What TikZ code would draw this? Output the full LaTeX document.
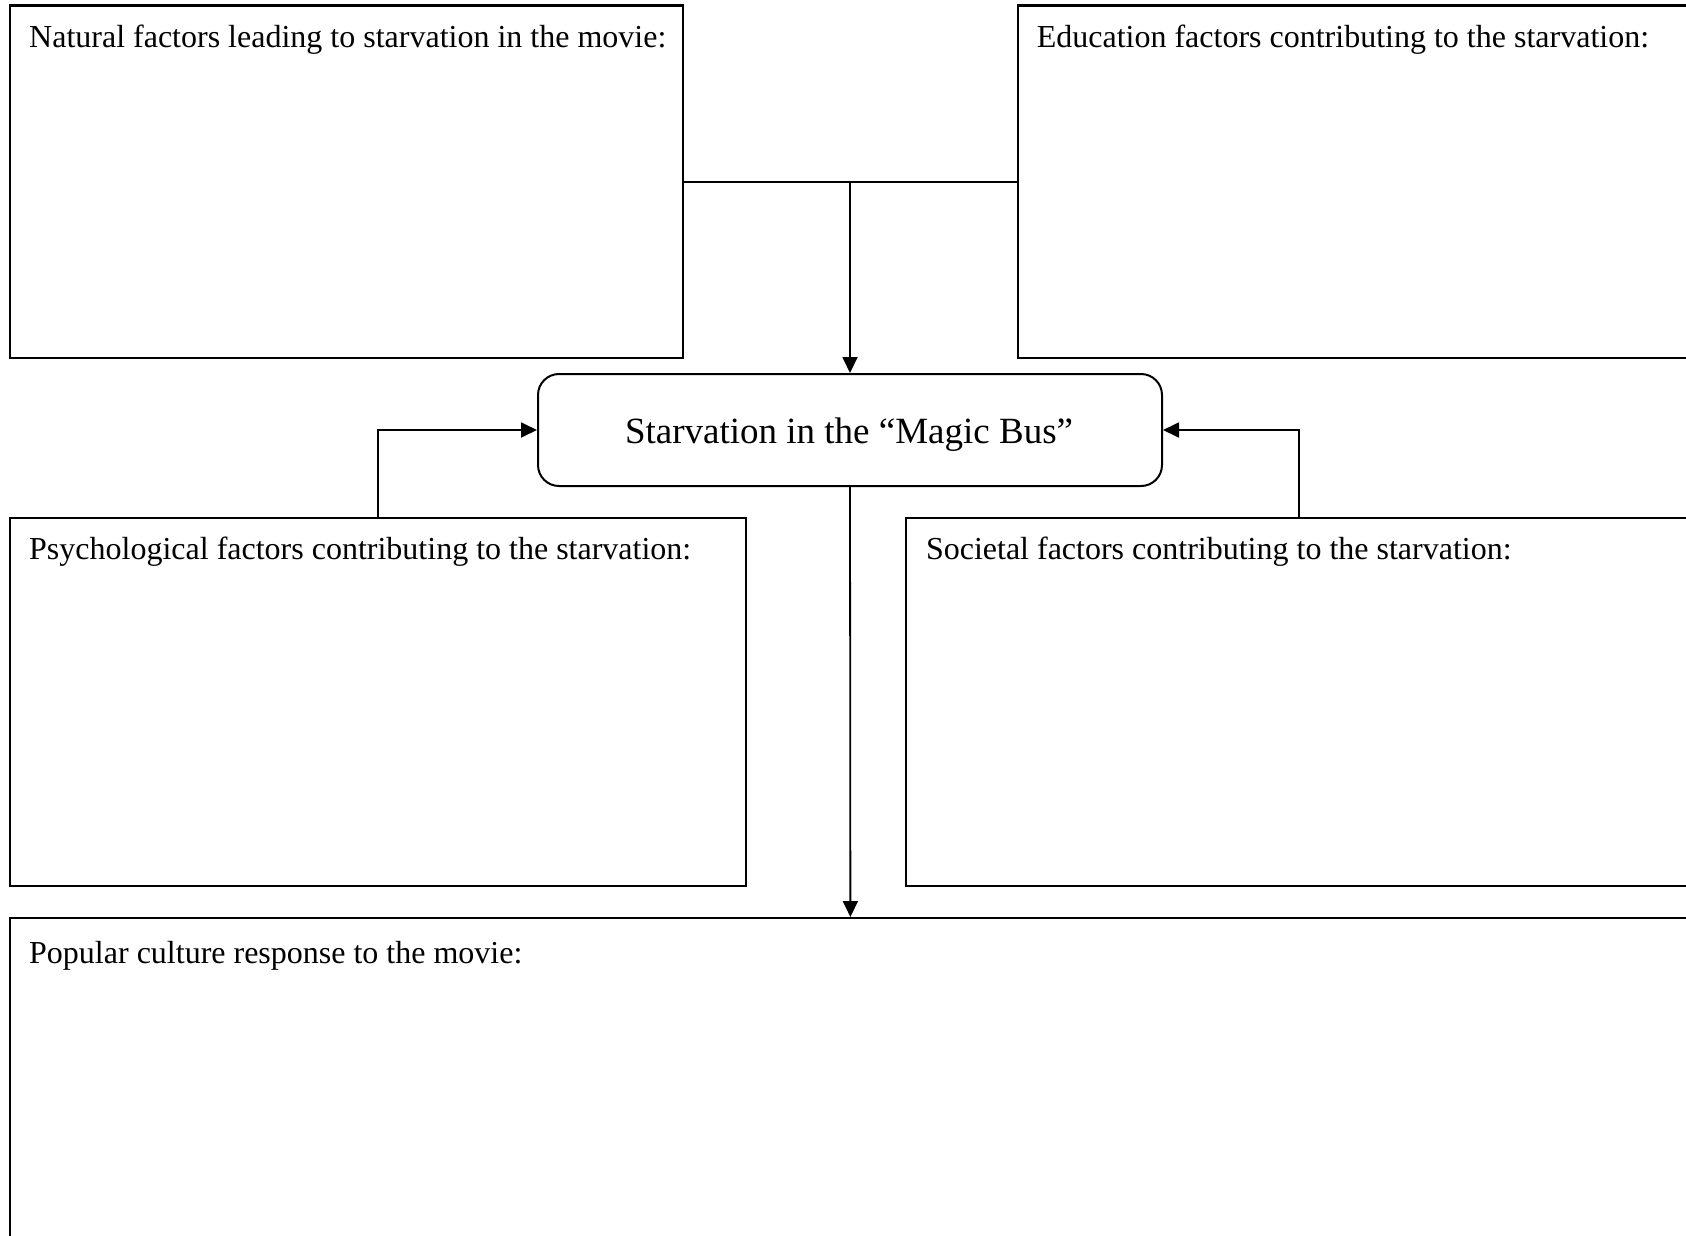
\documentclass[tikz,border=0pt]{standalone}
\usepackage{fontspec}
\setmainfont{Liberation Serif}
\usetikzlibrary{arrows.meta,calc}
\begin{document}
\begin{tikzpicture}[x=1pt,y=-1pt,
  box/.style={draw=black,line width=2.2pt,rectangle,inner sep=0pt,anchor=north west},
  centerbox/.style={draw=black,line width=2pt,rectangle,rounded corners=21pt,inner sep=0pt,anchor=north west},
  lbl/.style={inner sep=0pt,anchor=base west,font=\fontsize{32}{38}\selectfont},
  conn/.style={draw=black,line width=1.8pt},
  arr/.style={conn,-{Triangle[length=16pt,width=15pt]}}]
\useasboundingbox (0,0) rectangle (1686,1235);
% boxes
\node[box,minimum width=673.4pt,minimum height=352.7pt] (nat) at (8.6,4.3) {};
\node[box,minimum width=673pt,minimum height=352.7pt] (edu) at (1017,4.3) {};
\node[centerbox,minimum width=624pt,minimum height=112pt] (ctr) at (537,373) {};
\node[box,minimum width=736.4pt,minimum height=368pt] (psy) at (8.6,517) {};
\node[box,minimum width=785pt,minimum height=368pt] (soc) at (905,517) {};
\node[box,minimum width=1681.4pt,minimum height=343pt] (pop) at (8.6,917) {};
% texts
\node[lbl] (natt) at (29,47.5) {Natural factors leading to starvation in the movie:};
\node[lbl] (edut) at (1036.6,47.5) {Education factors contributing to the starvation:};
\node[lbl] (psyt) at (29,559.5) {Psychological factors contributing to the starvation:};
\node[lbl] (soct) at (925.8,559.5) {Societal factors contributing to the starvation:};
\node[lbl] (popt) at (29,963) {Popular culture response to the movie:};
\node[inner sep=0pt,anchor=base,font=\fontsize{37}{44}\selectfont] (ctrt) at (849,443) {Starvation in the “Magic Bus”};
% connectors
\coordinate (j) at (ctr.north |- nat.east);
\draw[conn] (nat.east) -- (edu.west);
\draw[arr] (j) -- (ctr.north);
\draw[arr] (psy.north) |- (ctr.west);
\draw[arr] (soc.north) |- (ctr.east);
\draw[arr] (ctr.south) -- (pop.north);
\end{tikzpicture}
\end{document}
